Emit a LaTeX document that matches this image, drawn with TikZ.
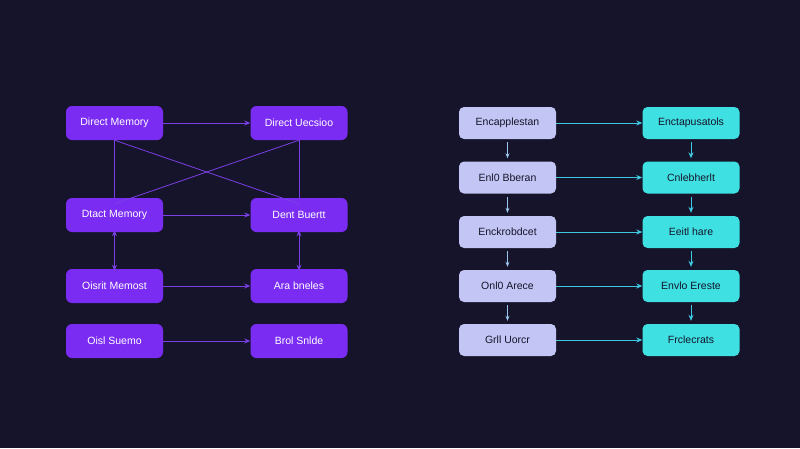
\documentclass[tikz,border=0pt]{standalone}
\usepackage{fontspec}
\setmainfont{Liberation Sans}
\usetikzlibrary{arrows.meta}
\definecolor{bg}{HTML}{15142A}
\definecolor{pur}{HTML}{7A2CF2}
\definecolor{purl}{HTML}{7B3FE6}
\definecolor{lav}{HTML}{C3C6F4}
\definecolor{cya}{HTML}{3FE0E2}
\definecolor{cyl}{HTML}{3FC9E0}
\begin{document}
\begin{tikzpicture}[x=1pt,y=-1pt,
  pb/.style={rounded corners=6pt,minimum width=97pt,minimum height=34pt,fill=pur,text=white,font=\fontsize{10.5}{12}\selectfont,inner sep=0pt},
  lb/.style={rounded corners=5pt,minimum width=97pt,minimum height=32pt,fill=lav,text=bg,font=\fontsize{10.5}{12}\selectfont,inner sep=0pt},
  cb/.style={lb,fill=cya},
  pa/.style={draw=purl,line width=0.8pt,-{Stealth[length=6pt,width=5pt]}},
  pl/.style={draw=purl,line width=0.8pt},
  ca/.style={draw=cyl,line width=0.8pt,-{Stealth[length=6pt,width=5pt]}},
  la/.style={draw=lav!70!cyl,line width=0.8pt,-{Stealth[length=5pt,width=4pt]}}]
\fill[bg] (0,0) rectangle (800,448);
\useasboundingbox (0,0) rectangle (800,448);
% left diagram
\node[pb] (a1) at (114.5,123) {Direct Memory};
\node[pb] (b1) at (299,123) {Direct Uecsioo};
\node[pb] (a2) at (114.5,215) {Dtact Memory};
\node[pb] (b2) at (299,215) {Dent Buertt};
\node[pb] (a3) at (114.5,286) {Oisrit Memost};
\node[pb] (b3) at (299,286) {Ara bneles};
\node[pb] (a4) at (114.5,341) {Oisl Suemo};
\node[pb] (b4) at (299,341) {Brol Snlde};
\draw[pa] (a1) -- (b1);
\draw[pa] (a2) -- (b2);
\draw[pa] (a3) -- (b3);
\draw[pa] (a4) -- (b4);
\draw[pl] (a1.south) -- (a2.north);
\draw[pl] (b1.south) -- (b2.north);
\draw[pl] (a1.south) -- ([yshift=-6pt]b2.north);
\draw[pl] (b1.south) -- ([yshift=-6pt]a2.north);
\draw[pa,{Stealth[length=6pt,width=5pt]}-{Stealth[length=6pt,width=5pt]}] ([yshift=2pt]a2.south) -- ([yshift=-2pt]a3.north);
\draw[pa,{Stealth[length=6pt,width=5pt]}-{Stealth[length=6pt,width=5pt]}] ([yshift=2pt]b2.south) -- ([yshift=-2pt]b3.north);
% right diagram
\node[lb] (c1) at (507.5,123) {Encapplestan};
\node[lb] (c2) at (507.5,177.5) {Enl0 Bberan};
\node[lb] (c3) at (507.5,232) {Enckrobdcet};
\node[lb] (c4) at (507.5,286) {Onl0 Arece};
\node[lb] (c5) at (507.5,340) {Grll Uorcr};
\node[cb] (d1) at (691,123) {Enctapusatols};
\node[cb] (d2) at (691,177.5) {Cnlebherlt};
\node[cb] (d3) at (691,232) {Eeitl hare};
\node[cb] (d4) at (691,286) {Envlo Ereste};
\node[cb] (d5) at (691,340) {Frclecrats};
\foreach \i in {1,...,5}{\draw[ca] (c\i) -- (d\i);}
\foreach \i/\j in {1/2,2/3,3/4,4/5}{
  \draw[la] ([yshift=-3pt]c\i.south) -- ([yshift=3pt]c\j.north);
  \draw[ca] ([yshift=-3pt]d\i.south) -- ([yshift=3pt]d\j.north);}
\end{tikzpicture}
\end{document}
